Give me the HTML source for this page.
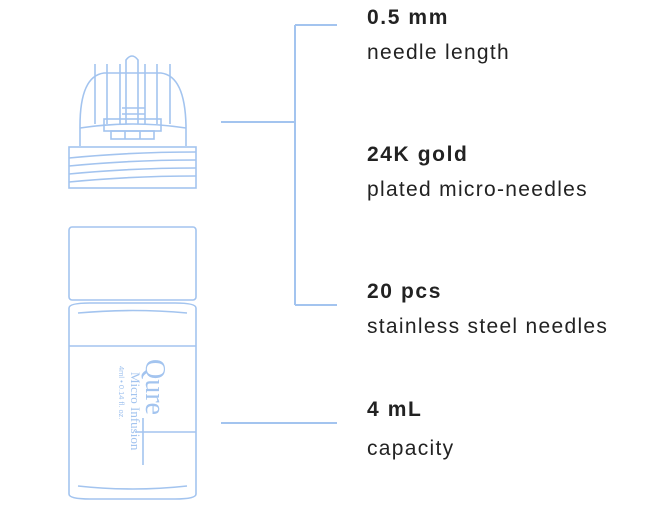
<!DOCTYPE html>
<html><head><meta charset="utf-8"><style>
body{margin:0;width:663px;height:509px;background:#fff;overflow:hidden;position:relative;font-family:"Liberation Sans",sans-serif;color:#222}
.t{position:absolute;left:367px;font-size:21px;letter-spacing:1.3px;white-space:nowrap}
.b{font-weight:bold;letter-spacing:1.6px}
svg{position:absolute;left:0;top:0}
</style></head><body>
<svg width="663" height="509" fill="none" stroke="#a3c4ef" stroke-width="1.6">
<path d="M221 122H295M295 25V305M295 25H337M295 305H337M221 423H337" stroke-width="2"/>
<path d="M80 146V126Q80 76 104 73H161Q185 76 186 126V146"/>
<path d="M80 128Q133 120 186 128"/>
<path d="M126 124V60Q132 52 138 60V124"/>
<g><path d="M95 64V124M107 64V124M120 64V124M145 64V124M157 64V124M170 64V124"/></g>
<rect x="104" y="119" width="57" height="12"/>
<rect x="111" y="131" width="43" height="8"/>
<path d="M122 108H145M122 114H145M125 131V139M140 131V139"/>
<rect x="69" y="147" width="127" height="41"/>
<path d="M69 158Q130 152 196 152M69 166Q130 160 196 160M69 174Q130 168 196 168M69 182Q130 176 196 176"/>
<rect x="69" y="227" width="127" height="73" rx="3"/>
<path d="M69 308Q69 303 90 303H175Q196 303 196 308V494Q196 499 175 499H90Q69 499 69 494Z"/>
<path d="M78 313Q133 308 187 313M78 486Q133 492 187 486M69 346H196"/>
<path d="M135 432H196M143 418V465"/>
<text x="0" y="0" transform="translate(146,359) rotate(90)" fill="#a3c4ef" stroke="none" font-family="Liberation Serif,serif" font-size="28">Qure</text>
<text x="0" y="0" transform="translate(131,372) rotate(90)" fill="#a3c4ef" stroke="none" font-family="Liberation Serif,serif" font-size="13">Micro Infusion</text>
<text x="0" y="0" transform="translate(119,366) rotate(90)" fill="#a3c4ef" stroke="none" font-family="Liberation Sans,sans-serif" font-size="7.5">4ml • 0.14 fl. oz.</text>
</svg>
<div class="t b" style="top:6px">0.5 mm</div>
<div class="t" style="top:41px">needle length</div>
<div class="t b" style="top:143px">24K gold</div>
<div class="t" style="top:178px">plated micro-needles</div>
<div class="t b" style="top:280px">20 pcs</div>
<div class="t" style="top:315px">stainless steel needles</div>
<div class="t b" style="top:398px">4 mL</div>
<div class="t" style="top:437px">capacity</div>
</body></html>
